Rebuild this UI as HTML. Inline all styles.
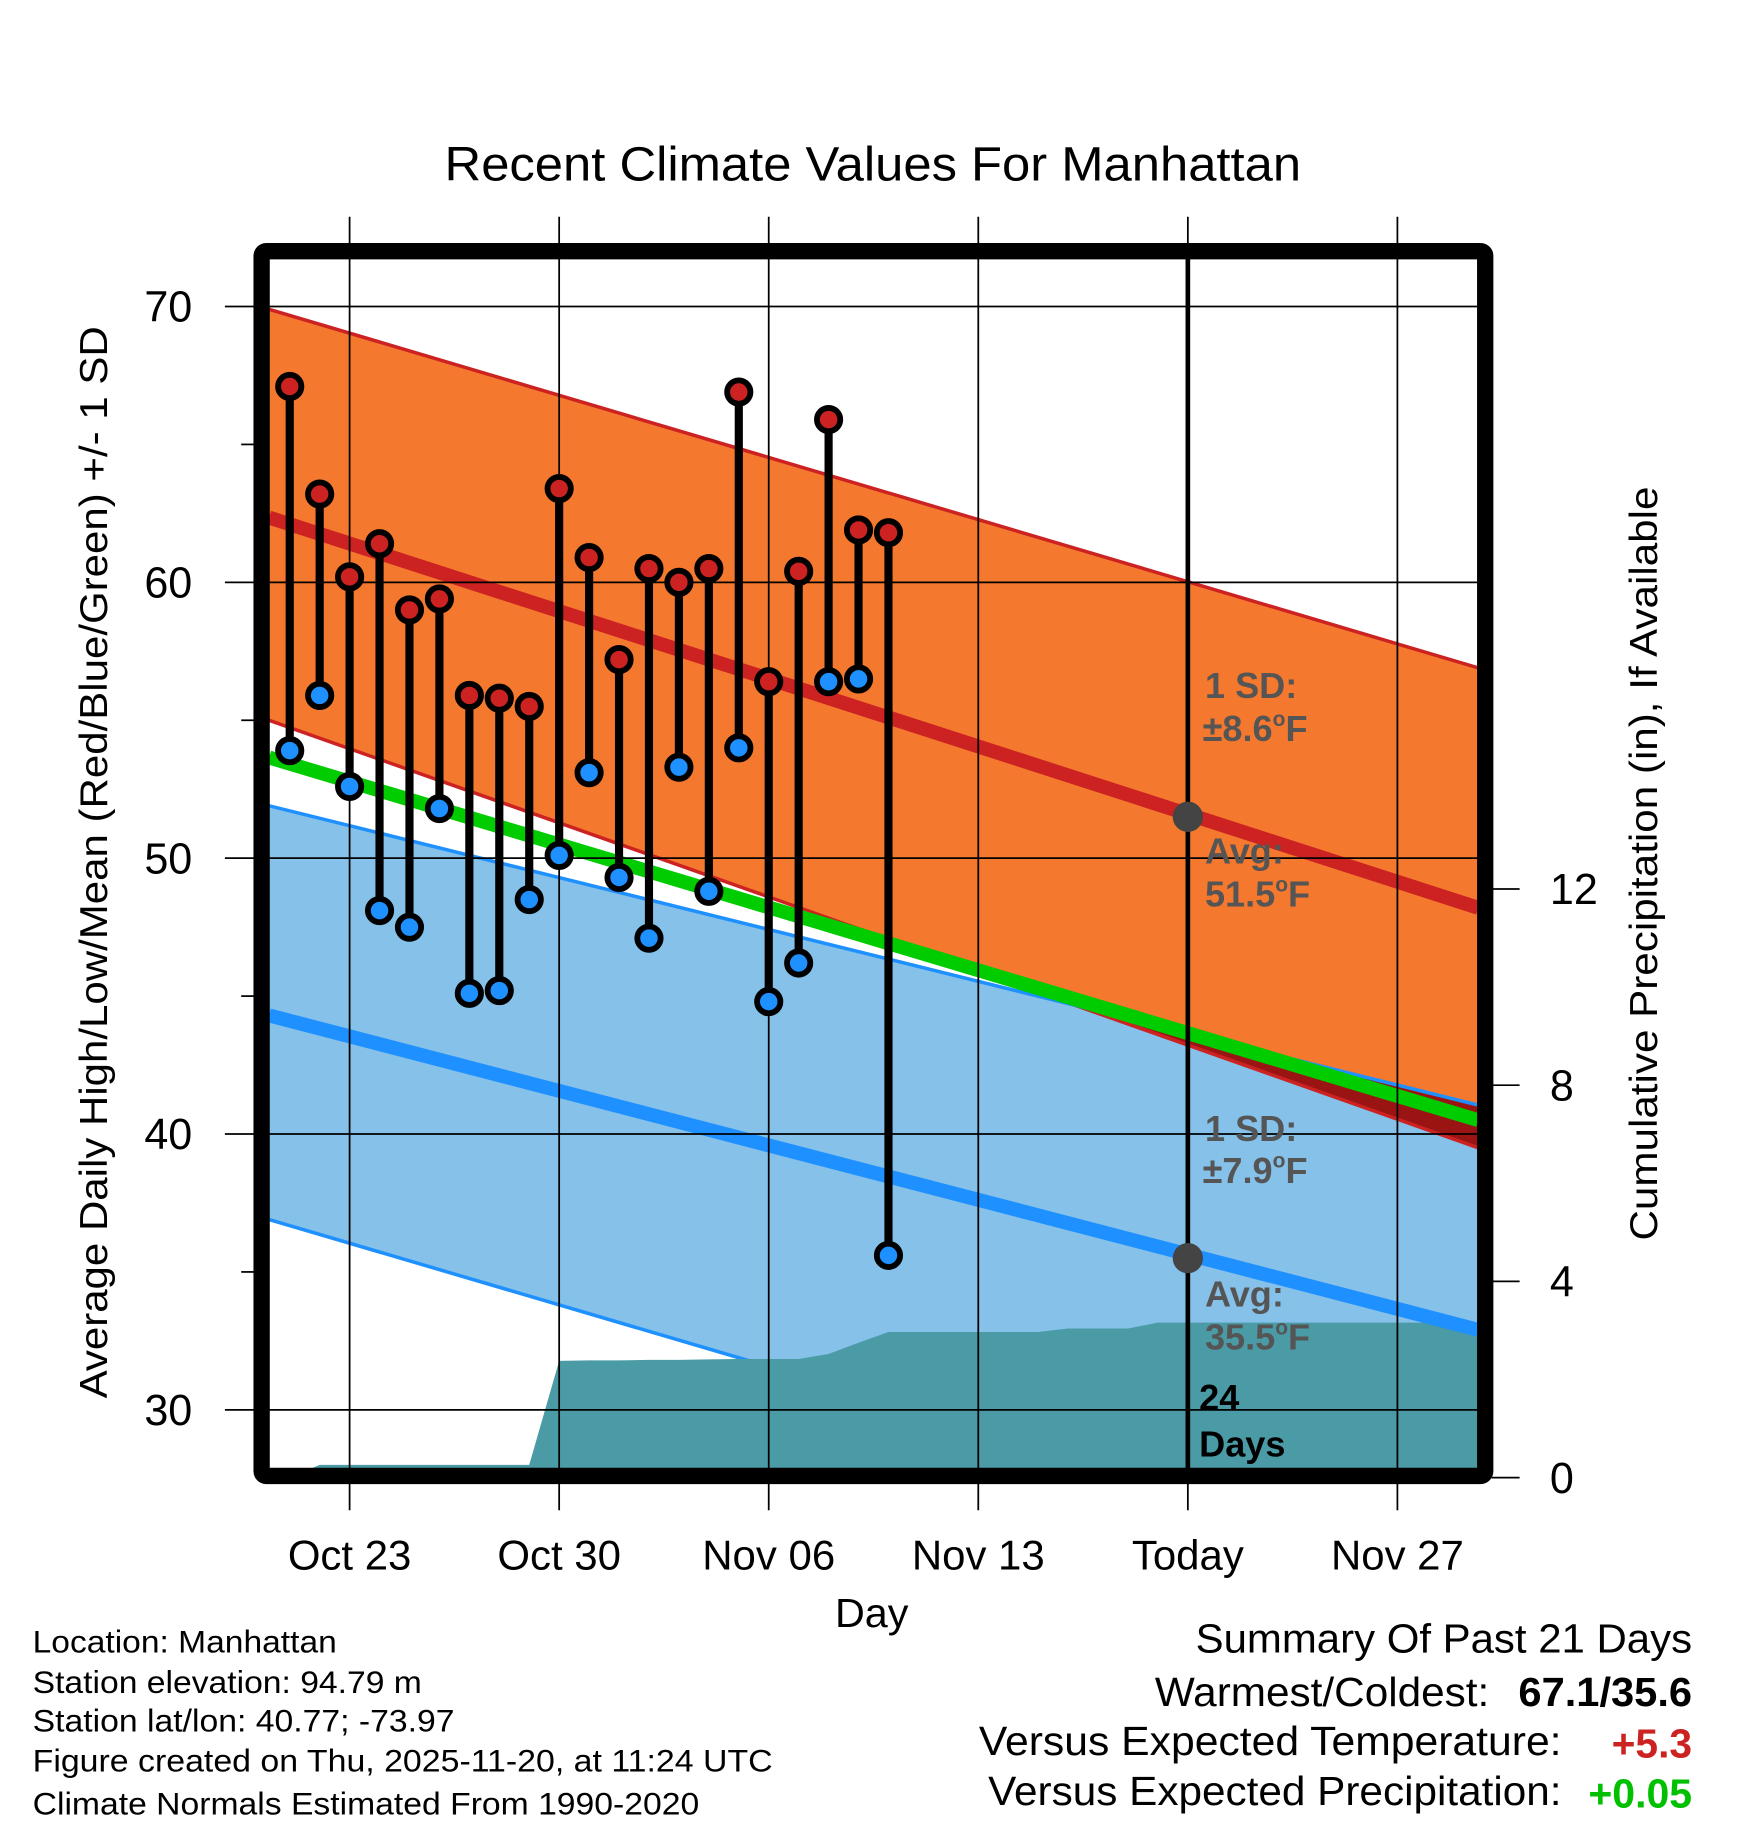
<!DOCTYPE html>
<html><head><meta charset="utf-8"><style>
html,body{margin:0;padding:0;background:#fff}
svg{display:block;font-family:"Liberation Sans",Arial,sans-serif}
</style></head><body>
<svg id="chart" width="1748" height="1828" viewBox="0 0 1500 1568.6" xmlns="http://www.w3.org/2000/svg">
<defs><clipPath id="plotClip"><rect x="231" y="222" width="1037" height="1038"/></clipPath></defs>
<rect width="1500" height="1568.6" fill="#fff"/>
<text x="749" y="155" font-size="41" text-anchor="middle" textLength="735" lengthAdjust="spacingAndGlyphs">Recent Climate Values For Manhattan</text>
<g id="plot" clip-path="url(#plotClip)"></g>
<g id="over"></g>
<rect x="224.5" y="215.5" width="1050" height="1051" fill="none" stroke="#000" stroke-width="14" rx="4"/>
<g id="axes"></g>
<text transform="translate(92,740) rotate(-90)" font-size="33" text-anchor="middle" textLength="920" lengthAdjust="spacingAndGlyphs">Average Daily High/Low/Mean (Red/Blue/Green) +/- 1 SD</text>
<text transform="translate(1422,741) rotate(-90)" font-size="33" text-anchor="middle" textLength="647" lengthAdjust="spacingAndGlyphs">Cumulative Precipitation (in), If Available</text>
<text x="748" y="1396" font-size="35" text-anchor="middle" textLength="63" lengthAdjust="spacingAndGlyphs">Day</text>
<g font-size="31" font-weight="bold" fill="#555">
<text x="1034" y="599">1 SD:</text><text x="1032" y="636">±8.6<tspan font-size="18" dy="-13">o</tspan><tspan dy="13">F</tspan></text>
<text x="1034" y="741">Avg:</text><text x="1034" y="778">51.5<tspan font-size="18" dy="-13">o</tspan><tspan dy="13">F</tspan></text>
<text x="1034" y="979">1 SD:</text><text x="1032" y="1015">±7.9<tspan font-size="18" dy="-13">o</tspan><tspan dy="13">F</tspan></text>
<text x="1034" y="1121">Avg:</text><text x="1034" y="1158">35.5<tspan font-size="18" dy="-13">o</tspan><tspan dy="13">F</tspan></text>
<text x="1029" y="1210" fill="#000">24</text><text x="1029" y="1250" fill="#000">Days</text>
</g>
<g font-size="27" lengthAdjust="spacingAndGlyphs">
<text x="28" y="1418" textLength="261" lengthAdjust="spacingAndGlyphs">Location: Manhattan</text>
<text x="28" y="1453" textLength="334" lengthAdjust="spacingAndGlyphs">Station elevation: 94.79 m</text>
<text x="28" y="1486" textLength="362" lengthAdjust="spacingAndGlyphs">Station lat/lon: 40.77; -73.97</text>
<text x="28" y="1520" textLength="635" lengthAdjust="spacingAndGlyphs">Figure created on Thu, 2025-11-20, at 11:24 UTC</text>
<text x="28" y="1557" textLength="572" lengthAdjust="spacingAndGlyphs">Climate Normals Estimated From 1990-2020</text>
</g>
<g font-size="35" text-anchor="end">
<text x="1452" y="1418" textLength="426" lengthAdjust="spacingAndGlyphs">Summary Of Past 21 Days</text>
<text x="1278" y="1464" textLength="287" lengthAdjust="spacingAndGlyphs">Warmest/Coldest:</text><text x="1452" y="1464" font-weight="bold" textLength="149" lengthAdjust="spacingAndGlyphs">67.1/35.6</text>
<text x="1340" y="1506" textLength="500" lengthAdjust="spacingAndGlyphs">Versus Expected Temperature:</text><text x="1452" y="1508" font-weight="bold" fill="#cc2222" textLength="69" lengthAdjust="spacingAndGlyphs">+5.3</text>
<text x="1340" y="1549" textLength="492" lengthAdjust="spacingAndGlyphs">Versus Expected Precipitation:</text><text x="1452" y="1551" font-weight="bold" fill="#00c000" textLength="89" lengthAdjust="spacingAndGlyphs">+0.05</text>
</g>
<script>
const highs=[67.1,63.2,60.2,61.4,59.0,59.4,55.9,55.8,55.5,63.4,60.9,57.2,60.5,60.0,60.5,66.9,56.4,60.4,65.9,61.9,61.8];
const lows=[53.9,55.9,52.6,48.1,47.5,51.8,45.1,45.2,48.5,50.1,53.1,49.3,47.1,53.3,48.8,54.0,44.8,46.2,56.4,56.5,35.6];
const firstDay=-2;
const normDays=[-2.69,37.7];
const highTop=[69.9,56.9];
const highAvg=[62.35,48.2];
const highBot=[55.0,39.5];
const meanAvg=[53.65,40.5];
const lowTop=[51.9,41.05];
const lowAvg=[44.3,32.9];
const lowBot=[36.9,24.0];
const precipDays=[-2.69,-2,-1,0,1,2,3,4,5,6,7,8,9,10,11,12,13,14,15,16,17,18,19,20,21,22,23,24,25,26,27,28,37.7];
const precipVals=[0,0,0.26,0.26,0.26,0.26,0.26,0.26,0.26,0.26,2.38,2.39,2.39,2.4,2.4,2.41,2.42,2.42,2.42,2.52,2.75,2.97,2.97,2.97,2.97,2.97,2.97,3.04,3.04,3.04,3.16,3.16,3.16];
const xTickDays=[0,7,14,21,28,35];
const xTickLabels=["Oct 23","Oct 30","Nov 06","Nov 13","Today","Nov 27"];
const yTicks=[70,60,50,40,30];
const yMinor=[65,55,45,35];
const pTicks=[0,4,8,12];
const todayDay=28;
const todayAvgs=[51.5,35.5];

const NS="http://www.w3.org/2000/svg";
const X=d=>300+d*25.69;
const Y=t=>263+(70-t)*23.67;
const P=p=>1268-p*42.1;
const plot=document.getElementById('plot'),over=document.getElementById('over'),axes=document.getElementById('axes');
function mk(tag,attrs,parent){const e=document.createElementNS(NS,tag);for(const k in attrs)e.setAttribute(k,attrs[k]);parent.appendChild(e);return e;}
function band(top,bot){return `${X(normDays[0])},${Y(top[0])} ${X(normDays[1])},${Y(top[1])} ${X(normDays[1])},${Y(bot[1])} ${X(normDays[0])},${Y(bot[0])}`;}
function line(v){return {x1:X(normDays[0]),y1:Y(v[0]),x2:X(normDays[1]),y2:Y(v[1])};}

let e;
e=mk('polygon',{points:band(highTop,highBot),fill:'#f4782e'},plot);

e=mk('polygon',{points:band(lowTop,lowBot),fill:'#85c1e8'},plot);

const cp=mk('clipPath',{id:'lowClip'},document.querySelector('defs'));
mk('polygon',{points:band(lowTop,lowBot)},cp);
e=mk('polygon',{points:band(highTop,highBot),fill:'#9a1414','clip-path':'url(#lowClip)'},plot);

[[highTop,'#cc2222',3,'high-sd-upper'],[highBot,'#cc2222',3,'high-sd-lower'],[lowTop,'#1e90ff',3,'low-sd-upper'],[lowBot,'#1e90ff',3,'low-sd-lower']].forEach(a=>{
 e=mk('line',Object.assign(line(a[0]),{stroke:a[1],'stroke-width':a[2]}),plot);
 
});
let pts=`${X(precipDays[0])},1270 `;
precipDays.forEach((d,i)=>{pts+=`${X(d)},${P(precipVals[i])} `;});
pts+=`${X(precipDays[precipDays.length-1])},1270`;
e=mk('polygon',{points:pts,fill:'#4a9ba5'},plot);

[[highAvg,'#cc2222',12,'high-avg-line'],[meanAvg,'#00cc00',12,'mean-avg-line'],[lowAvg,'#1e90ff',12,'low-avg-line']].forEach(a=>{
 e=mk('line',Object.assign(line(a[0]),{stroke:a[1],'stroke-width':a[2]}),plot);
 
});
yTicks.forEach(t=>{
 e=mk('line',{x1:193,x2:1268,y1:Y(t),y2:Y(t),stroke:'#000','stroke-width':1.5},over);
 
 e=mk('text',{x:165,y:Y(t)+13,'font-size':37,'text-anchor':'end'},axes);e.textContent=t;
 
});
yMinor.forEach(t=>{
 e=mk('line',{x1:207,x2:220,y1:Y(t),y2:Y(t),stroke:'#000','stroke-width':1.5},axes);
 
});
xTickDays.forEach((d,i)=>{
 e=mk('line',{x1:X(d),x2:X(d),y1:186,y2:1296,stroke:'#000','stroke-width':1.5},over);
 
 e=mk('text',{x:X(d),y:1347,'font-size':36,'text-anchor':'middle'},axes);e.textContent=xTickLabels[i];
 
});
pTicks.forEach(p=>{
 e=mk('line',{x1:1280,x2:1304,y1:P(p),y2:P(p),stroke:'#000','stroke-width':1.5},axes);
 
 e=mk('text',{x:1330,y:P(p)+13,'font-size':37},axes);e.textContent=p;
 
});
e=mk('line',{x1:X(todayDay),x2:X(todayDay),y1:222,y2:1262,stroke:'#000','stroke-width':4},over);

todayAvgs.forEach(t=>{
 e=mk('circle',{cx:X(todayDay),cy:Y(t),r:13,fill:'#444'},over);
 
});
highs.forEach((h,i)=>{
 const d=firstDay+i;
 e=mk('line',{x1:X(d),x2:X(d),y1:Y(h),y2:Y(lows[i]),stroke:'#000','stroke-width':7},over);
 
});
highs.forEach((h,i)=>{
 const d=firstDay+i;
 e=mk('circle',{cx:X(d),cy:Y(h),r:10,fill:'#cc2222',stroke:'#000','stroke-width':5},over);
 
 e=mk('circle',{cx:X(d),cy:Y(lows[i]),r:10,fill:'#1e90ff',stroke:'#000','stroke-width':5},over);
 
});
</script>
</svg>
</body></html>
